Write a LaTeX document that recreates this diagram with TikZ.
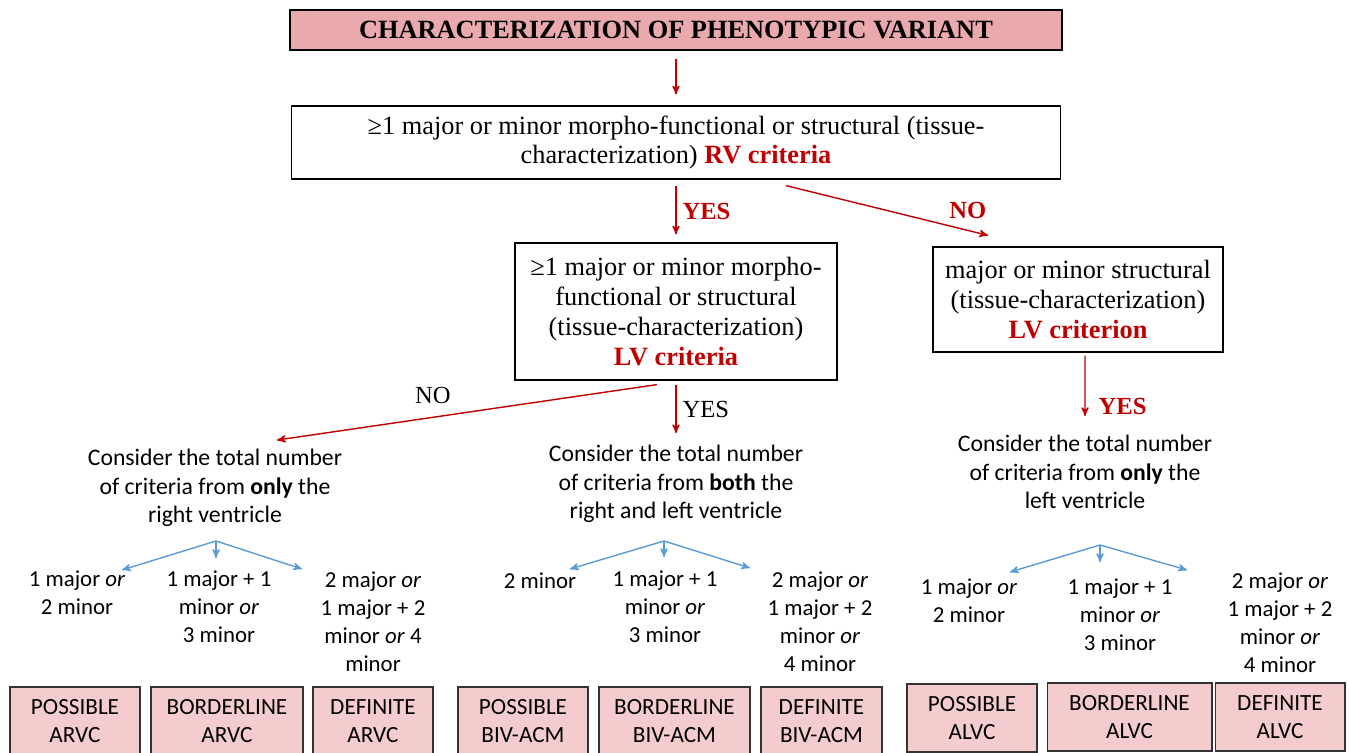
\documentclass[tikz,border=0pt]{standalone}
\usepackage{fontspec}
\setmainfont{Liberation Serif}
\newfontfamily\calibri{Carlito}
\usetikzlibrary{arrows}
\definecolor{darkred}{RGB}{192,0,0}
\definecolor{titlepink}{RGB}{234,170,173}
\definecolor{lightpink}{RGB}{244,204,205}
\definecolor{skyblue}{RGB}{91,155,213}

\begin{document}
\begin{tikzpicture}[x=0.02cm, y=-0.02cm, >=stealth',
box/.style={rectangle, draw, line width=0.7pt, align=center, inner sep=0pt, font=\fontsize{15}{17}\selectfont},
titlebox/.style={box, fill=titlepink, font=\fontsize{15}{17}\selectfont\bfseries},
result/.style={rectangle, draw=black!80, line width=0.6pt, fill=lightpink, align=center, inner sep=0pt, minimum height=1.36cm, font=\calibri\fontsize{13.2}{16}\selectfont},
note/.style={align=center, font=\calibri\fontsize{13}{16}\selectfont},
wide/.style={note, font=\calibri\fontsize{13.5}{16.2}\selectfont},
redline/.style={draw=darkred, line width=0.8pt},
blueline/.style={draw=skyblue, line width=0.8pt},
yes/.style={text=darkred, font=\fontsize{14}{17}\selectfont\bfseries},
plain/.style={font=\fontsize{14}{17}\selectfont},
]
\useasboundingbox (0,0) rectangle (1349,753);
%top boxes
\node (title) [titlebox, minimum width=15.44cm, minimum height=0.8cm] at (676,30) {CHARACTERIZATION OF PHENOTYPIC VARIANT};
\node (rv) [box, minimum width=15.38cm, minimum height=1.46cm] at (676,142.5) {≥1 major or minor morpho-functional or structural (tissue-\\characterization) \textcolor{darkred}{\textbf{RV criteria}}};
\node (lv) [box, minimum width=6.44cm, minimum height=2.74cm] at (676,311.5) {≥1 major or minor morpho-\\functional or structural\\(tissue-characterization)\\\textcolor{darkred}{\textbf{LV criteria}}};
\node (lvonly) [box, minimum width=5.8cm, minimum height=2.1cm] at (1078,299.5) {major or minor structural\\(tissue-characterization)\\\textcolor{darkred}{\textbf{LV criterion}}};
%second level
\node (rvtotal) [wide] at (215,488) {Consider the total number\\of criteria from \textbf{only} the\\right ventricle};
\node (both) [wide] at (676,484) {Consider the total number\\of criteria from \textbf{both} the\\right and left ventricle};
\node (lvtotal) [wide] at (1085,472) {Consider the total number\\of criteria from \textbf{only} the\\left ventricle};
%options
\node (l1) [note] at (77,593) {1 major \textit{or}\\2 minor};
\node (l2) [note] at (219,607) {1 major + 1\\minor \textit{or}\\3 minor};
\node (l3) [note] at (373,621.5) {2 major \textit{or}\\1 major + 2\\minor \textit{or} 4\\minor};
\node (m1) [note] at (540,581) {2 minor};
\node (m2) [note] at (665,607) {1 major + 1\\minor \textit{or}\\3 minor};
\node (m3) [note] at (820,621.5) {2 major \textit{or}\\1 major + 2\\minor \textit{or}\\4 minor};
\node (r1) [note] at (969,601) {1 major \textit{or}\\2 minor};
\node (r2) [note] at (1120,615) {1 major + 1\\minor \textit{or}\\3 minor};
\node (r3) [note] at (1280,622.5) {2 major \textit{or}\\1 major + 2\\minor \textit{or}\\4 minor};
%results
\node (posarvc) [result, minimum width=2.6cm] at (75,721) {POSSIBLE\\ARVC};
\node (borarvc) [result, minimum width=3.04cm] at (227,721) {BORDERLINE\\ARVC};
\node (defarvc) [result, minimum width=2.4cm] at (373,721) {DEFINITE\\ARVC};
\node (posbiv) [result, minimum width=2.6cm] at (523,721) {POSSIBLE\\BIV-ACM};
\node (borbiv) [result, minimum width=3.02cm] at (674.5,721) {BORDERLINE\\BIV-ACM};
\node (defbiv) [result, minimum width=2.42cm] at (821.5,721) {DEFINITE\\BIV-ACM};
\node (posalvc) [result, minimum width=2.6cm] at (972,718) {POSSIBLE\\ALVC};
\node (boralvc) [result, minimum width=3.3cm] at (1129.5,717) {BORDERLINE\\ALVC};
\node (defalvc) [result, minimum width=2.6cm] at (1280,717) {DEFINITE\\ALVC};
%fork points
\coordinate (fl) at (216,541);
\coordinate (fl1) at (122,570);
\coordinate (fl2) at (216,558);
\coordinate (fl3) at (302,569);
\coordinate (fm) at (664,541);
\coordinate (fm1) at (570,569);
\coordinate (fm2) at (664,557);
\coordinate (fm3) at (750,568);
\coordinate (fr) at (1100,545);
\coordinate (fr1) at (1010,572);
\coordinate (fr2) at (1100,562);
\coordinate (fr3) at (1187,570);
%red arrows
\draw [redline,->] (title) -- (rv) [shorten <=0.16cm, shorten >=0.22cm];
\draw [redline,->,shorten <=0.12cm, shorten >=0.16cm] (rv) --node[midway,right,yes]{YES} (lv);
\draw [redline,->] ([xshift=2.2cm,yshift=-0.12cm]rv.south) --node[pos=0.9,above=3pt,yes]{NO} ([xshift=-1.8cm,yshift=0.22cm]lvonly.north);
\draw [redline,->] ([xshift=0.14cm,yshift=-0.06cm]lvonly.south) --node[pos=0.84,right=4pt,yes]{YES} ([yshift=0.26cm]lvtotal.north);
\draw [redline,->,shorten <=0.08cm, shorten >=0.12cm] (lv) --node[midway,right,plain]{YES} (both);
\draw [redline,->] ([xshift=-0.38cm,yshift=-0.08cm]lv.south) --node[pos=0.59,above=4pt,plain]{NO} ([xshift=1.24cm,yshift=0.06cm]rvtotal.north);
%blue arrows
\draw [blueline,->] (fl) -- (fl1);
\draw [blueline,->] (fl) -- (fl2);
\draw [blueline,->] (fl) -- (fl3);
\draw [blueline,->] (fm) -- (fm1);
\draw [blueline,->] (fm) -- (fm2);
\draw [blueline,->] (fm) -- (fm3);
\draw [blueline,->] (fr) -- (fr1);
\draw [blueline,->] (fr) -- (fr2);
\draw [blueline,->] (fr) -- (fr3);
\end{tikzpicture}
\end{document}
